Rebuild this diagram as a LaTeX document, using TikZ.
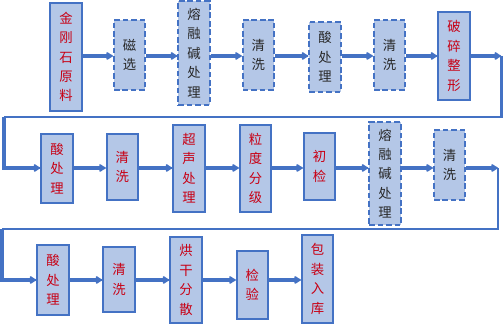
\documentclass[tikz,border=0pt]{standalone}
\usepackage{fontspec}
\setmainfont{Noto Sans CJK SC}
\usepackage{xcolor}
\usepackage{tikz}
\usetikzlibrary{arrows.meta}
\definecolor{procblue}{RGB}{68,114,196}
\definecolor{procfill}{RGB}{180,199,231}
\definecolor{procred}{RGB}{200,0,20}
\definecolor{procdark}{RGB}{40,40,40}

\tikzset{
  procbox/.style={draw=procblue, fill=procfill, line width=1.4pt, inner sep=0pt,
    minimum width=0.78cm, align=center, text=procred,
    font=\fontsize{9.5}{13.8}\selectfont},
  dashbox/.style={procbox, dash pattern=on 4pt off 2pt, text=procdark},
  flow/.style={draw=procblue, line width=2.2pt, -{Latex[round,length=5.5pt,width=7pt]}},
  wrapline/.style={draw=procblue, line width=2pt}
}

\begin{document}
\begin{tikzpicture}
  \useasboundingbox (0,0) rectangle (12.6,8.15);
  % row lines
  \coordinate (r1) at (0,6.75);
  \coordinate (r2) at (0,3.95);
  \coordinate (r3) at (0,1.15);

  % Top row
  \node[procbox, minimum height=2.7cm]  (a1) at (1.65,6.725)  {金\\刚\\石\\原\\料};
  \node[dashbox, minimum height=1.75cm] (a2) at (3.24,6.775)  {磁\\选};
  \node[dashbox, minimum height=2.6cm]  (a3) at (4.85,6.825)  {熔\\融\\碱\\处\\理};
  \node[dashbox, minimum height=1.75cm] (a4) at (6.46,6.775)  {清\\洗};
  \node[dashbox, minimum height=1.75cm] (a5) at (8.125,6.725) {酸\\处\\理};
  \node[dashbox, minimum height=1.75cm] (a6) at (9.74,6.775)  {清\\洗};
  \node[procbox, minimum height=2.2cm]  (a7) at (11.35,6.75)  {破\\碎\\整\\形};

  % Middle row
  \node[procbox, minimum height=1.725cm] (b1) at (1.425,3.94) {酸\\处\\理};
  \node[procbox, minimum height=1.65cm]  (b2) at (3.06,3.975) {清\\洗};
  \node[procbox, minimum height=2.175cm] (b3) at (4.725,3.94) {超\\声\\处\\理};
  \node[procbox, minimum height=2.175cm] (b4) at (6.39,3.94)  {粒\\度\\分\\级};
  \node[procbox, minimum height=1.675cm] (b5) at (7.99,3.99)  {初\\检};
  \node[dashbox, minimum height=2.575cm] (b6) at (9.625,3.81) {熔\\融\\碱\\处\\理};
  \node[dashbox, minimum height=1.75cm]  (b7) at (11.24,4.025) {清\\洗};

  % Bottom row
  \node[procbox, minimum height=1.75cm]  (c1) at (1.325,1.15) {酸\\处\\理};
  \node[procbox, minimum height=1.625cm] (c2) at (2.975,1.16) {清\\洗};
  \node[procbox, minimum height=2.15cm]  (c3) at (4.65,1.15)  {烘\\干\\分\\散};
  \node[procbox, minimum height=1.7cm]   (c4) at (6.31,1.025) {检\\验};
  \node[procbox, minimum height=2.2cm]   (c5) at (7.94,1.175) {包\\装\\入\\库};

  % arrows along the rows
  \foreach \p/\q in {a1/a2,a2/a3,a3/a4,a4/a5,a5/a6,a6/a7}
    \draw[flow] (\p.east |- r1) -- (\q.west |- r1);
  \foreach \p/\q in {b1/b2,b2/b3,b3/b4,b4/b5,b5/b6,b6/b7}
    \draw[flow] (\p.east |- r2) -- (\q.west |- r2);
  \foreach \p/\q in {c1/c2,c2/c3,c3/c4,c4/c5}
    \draw[flow] (\p.east |- r3) -- (\q.west |- r3);

  % wrap to next row
  \coordinate (e1) at (12.53,6.75);
  \coordinate (w1) at (0.1,5.225);
  \draw[flow] (a7.east |- r1) -- (e1);
  \draw[wrapline] (e1) |- (w1);
  \draw[flow] (w1) |- (b1.west |- r2);

  \coordinate (e2) at (12.45,3.95);
  \coordinate (w2) at (0.05,2.425);
  \draw[flow] (b7.east |- r2) -- (e2);
  \draw[wrapline] (e2) |- (w2);
  \draw[flow] (w2) |- (c1.west |- r3);
\end{tikzpicture}
\end{document}
